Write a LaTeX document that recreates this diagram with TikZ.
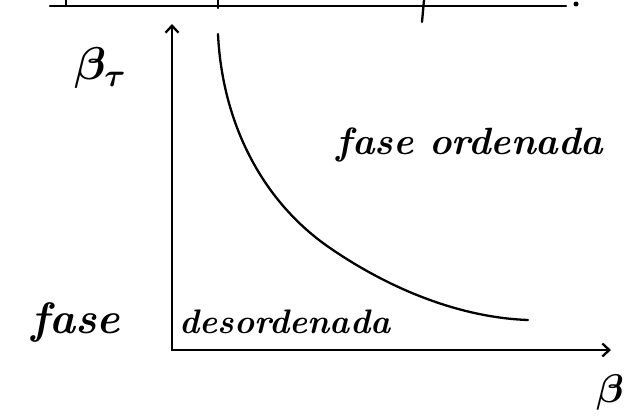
\RequirePackage{fix-cm}
\documentclass[tikz,border=0pt]{standalone}
\usepackage{amsmath,amssymb,bm}
\usetikzlibrary{arrows.meta}
\begin{document}
\begin{tikzpicture}[x=1pt,y=-1pt,
  ink/.style={line width=2.3pt,line cap=round,line join=round},
  axisarrow/.style={ink,-{Straight Barb[length=7pt,width=13pt,line width=2.3pt]}},
  lbl/.style={font=\bfseries\itshape\fontsize{38}{40}\selectfont,inner sep=0pt}]
\useasboundingbox (0,0) rectangle (626,416);
% remnant line at top
\coordinate (t0) at (50,6);
\coordinate (t1) at (566,6);
\draw[ink] (t0) -- (t1);
\fill (576,4) circle (2.5pt);
\draw[ink] (66,0) -- (66,6);
\draw[ink] (218,0) -- (218,8);
\draw[ink] (424,0) -- (422,22);
% axes
\coordinate (o) at (172,350);
\coordinate (ytop) at (172,24);
\coordinate (xend) at (611,350);
\draw[axisarrow] (o) -- (ytop);
\draw[axisarrow] (o) -- (xend);
% curve
\draw[ink] (218,34) .. controls (222,120) and (260,200) .. (330,248)
  .. controls (400,296) and (470,318) .. (528,320);
% labels
\node[lbl,font=\fontsize{46}{48}\selectfont] (bt) at (100,68) {$\bm{\beta}_{\bm{\tau}}$};
\node[lbl,font=\fontsize{40}{42}\selectfont] (b) at (610,392) {$\bm{\beta}$};
\node[lbl] (fo) at (470,145) {fase ordenada};
\node[lbl,font=\bfseries\itshape\fontsize{44}{46}\selectfont] (f) at (76,322) {fase};
\node[lbl,font=\bfseries\itshape\fontsize{34}{36}\selectfont] (d) at (285,322) {desordenada};
\end{tikzpicture}
\end{document}
